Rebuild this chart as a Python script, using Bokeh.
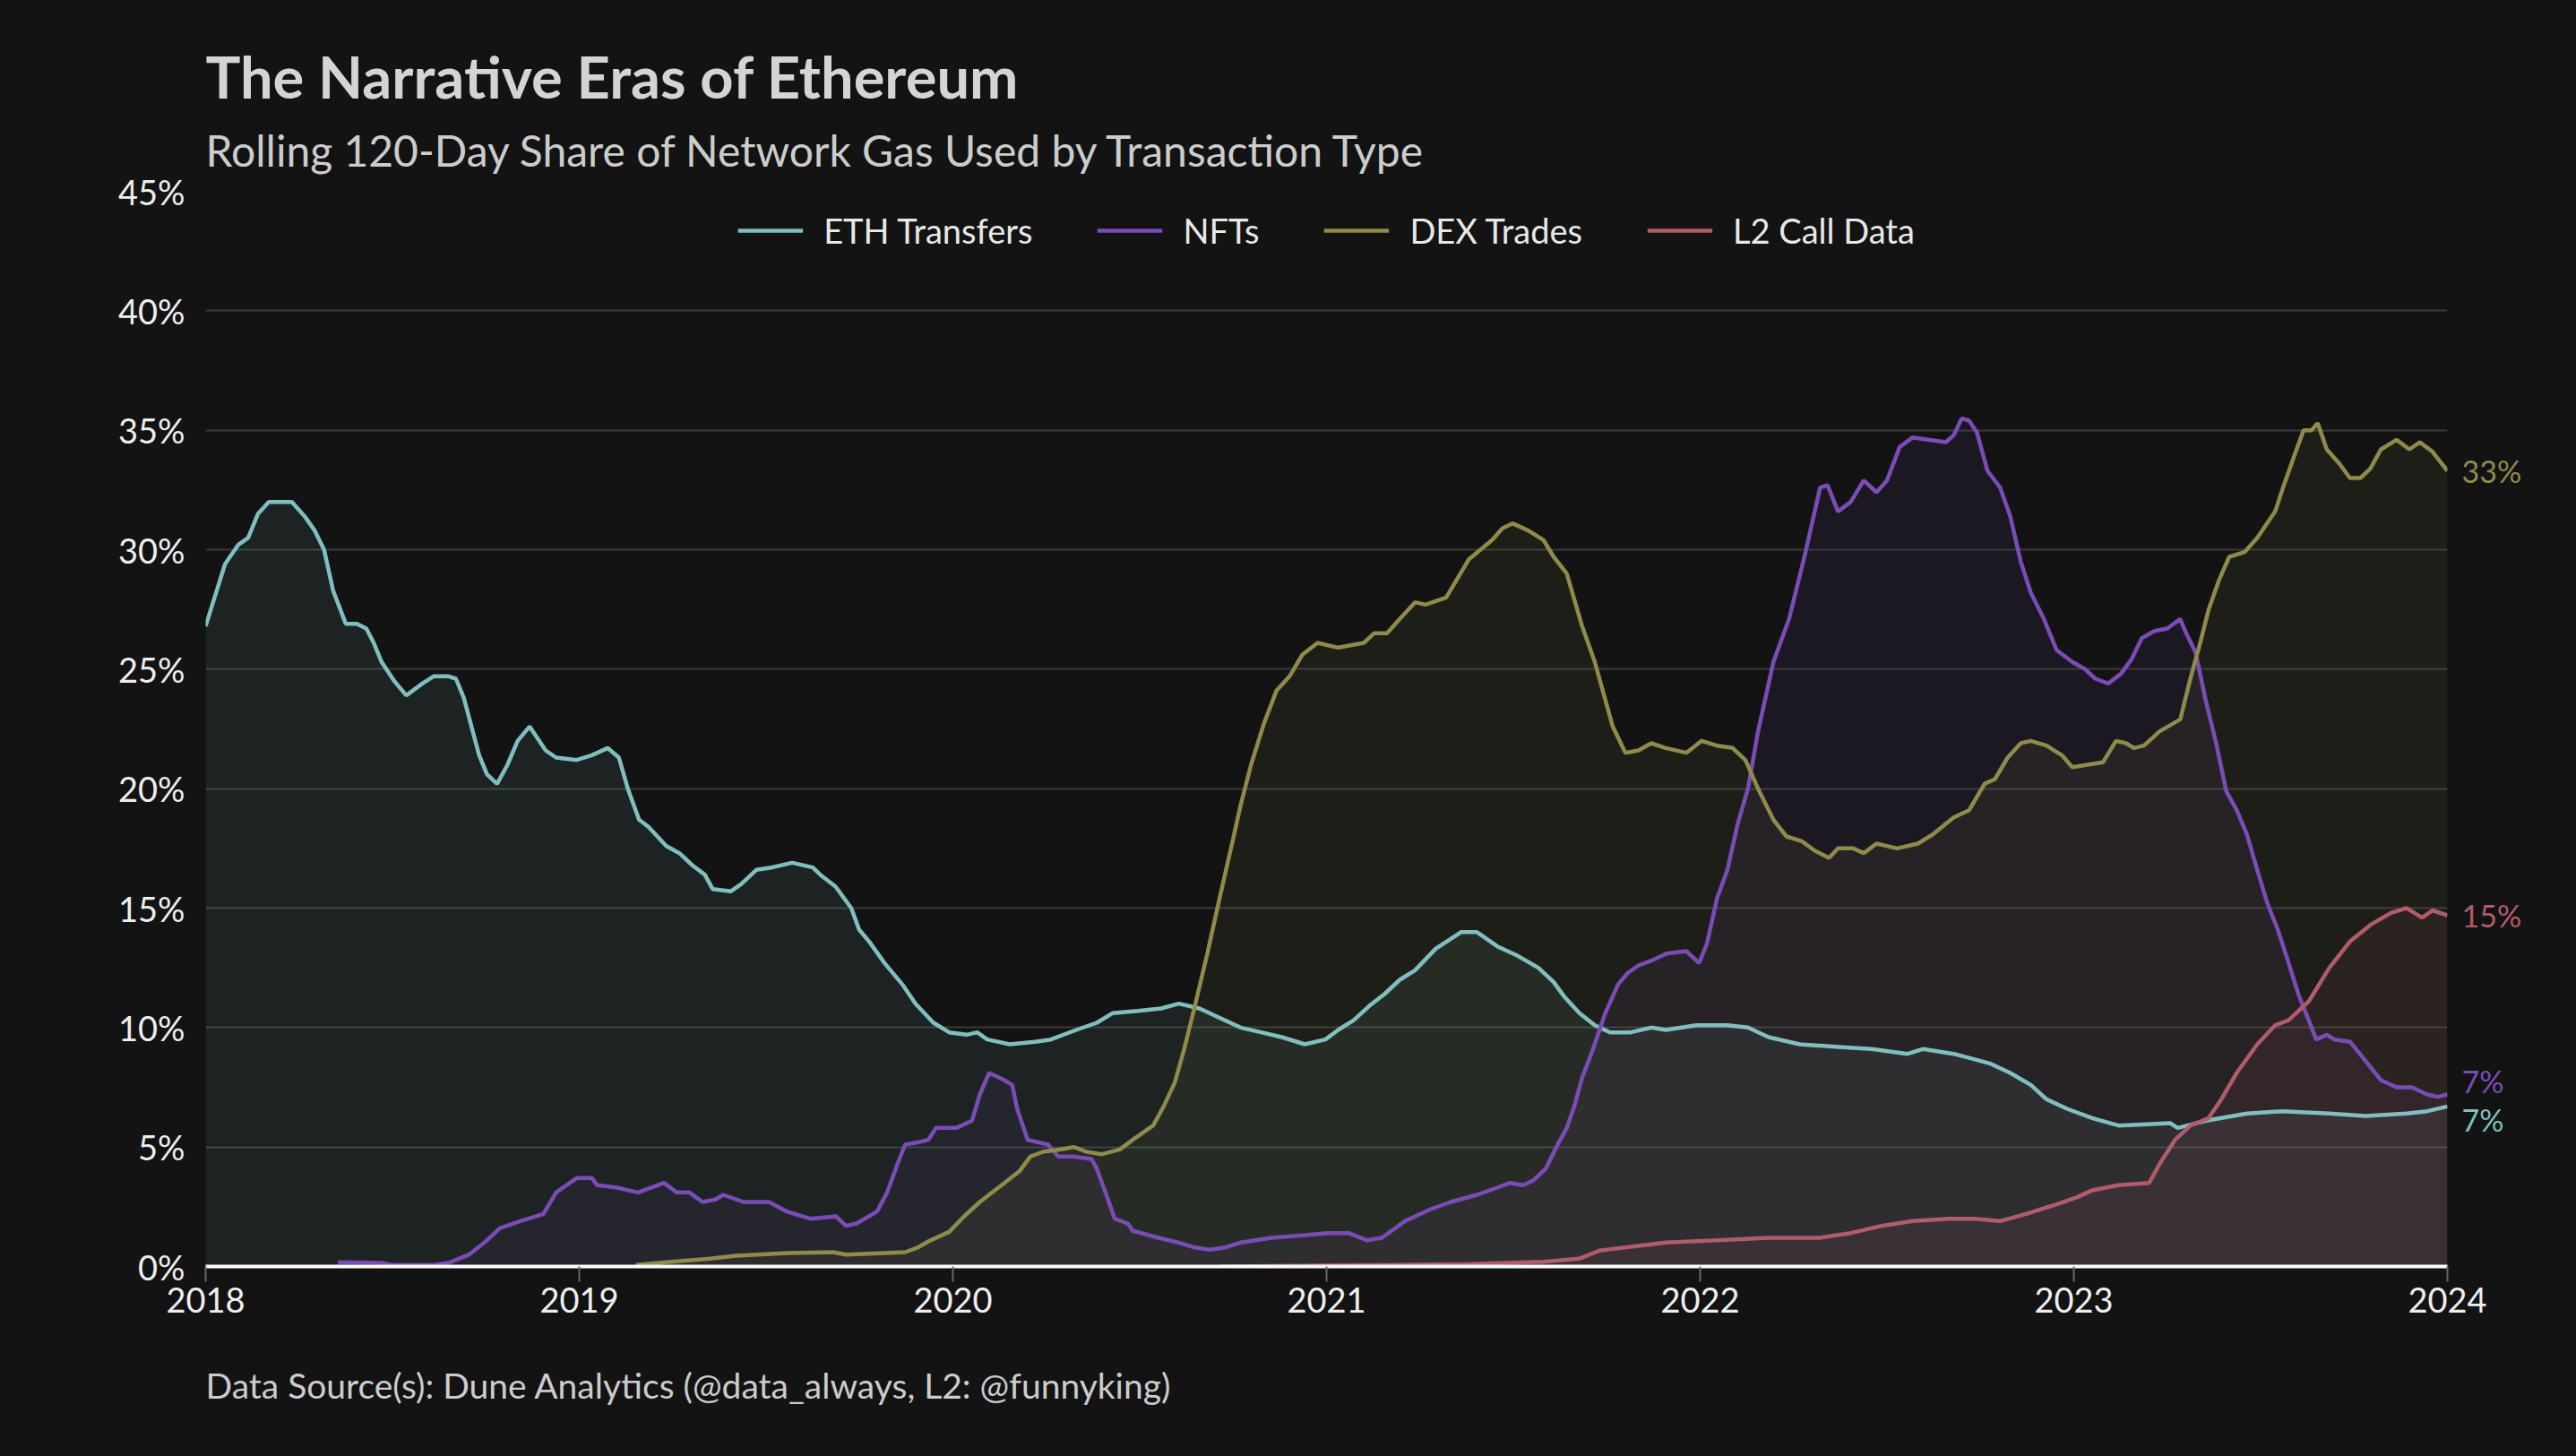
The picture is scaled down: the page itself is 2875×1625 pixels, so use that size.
from bokeh.plotting import figure
from bokeh.models import (ColumnDataSource, Range1d, FixedTicker, PrintfTickFormatter,
                          Legend, LegendItem, Title)
from bokeh.layouts import row
from bokeh.core.properties import value
from bokeh.embed import file_html
from bokeh.resources import INLINE

BG = "#131313"
FONT = "Lato"

title_text = "The Narrative Eras of Ethereum"
subtitle_text = "Rolling 120-Day Share of Network Gas Used by Transaction Type"
footer_text = "Data Source(s): Dune Analytics (@data_always, L2: @funnyking)"

year_ticks = [2018, 2019, 2020, 2021, 2022, 2023, 2024]
pct_ticks = [0, 5, 10, 15, 20, 25, 30, 35, 40, 45]

# decimal years / percent of gas
eth_x = [2018.000, 2018.032, 2018.052, 2018.087, 2018.114, 2018.140, 2018.169, 2018.231, 2018.265, 2018.292,
         2018.317, 2018.341, 2018.375, 2018.405, 2018.430, 2018.450, 2018.471, 2018.505, 2018.537, 2018.580,
         2018.610, 2018.650, 2018.670, 2018.691, 2018.732, 2018.753, 2018.780, 2018.808, 2018.835, 2018.867,
         2018.910, 2018.938, 2018.993, 2019.034, 2019.076, 2019.106, 2019.130, 2019.160, 2019.185, 2019.233,
         2019.268, 2019.302, 2019.336, 2019.357, 2019.405, 2019.433, 2019.474, 2019.515, 2019.570, 2019.625,
         2019.645, 2019.686, 2019.728, 2019.749, 2019.776, 2019.817, 2019.865, 2019.900, 2019.948, 2019.990,
         2020.037, 2020.065, 2020.092, 2020.152, 2020.220, 2020.262, 2020.330, 2020.385, 2020.427, 2020.495,
         2020.557, 2020.605, 2020.660, 2020.701, 2020.770, 2020.825, 2020.880, 2020.942, 2020.997, 2021.031,
         2021.072, 2021.114, 2021.155, 2021.196, 2021.237, 2021.292, 2021.361, 2021.402, 2021.457, 2021.512,
         2021.567, 2021.608, 2021.636, 2021.677, 2021.718, 2021.759, 2021.814, 2021.869, 2021.908, 2021.990,
         2022.073, 2022.128, 2022.183, 2022.266, 2022.362, 2022.459, 2022.555, 2022.596, 2022.679, 2022.775,
         2022.830, 2022.885, 2022.927, 2022.982, 2023.051, 2023.120, 2023.258, 2023.278, 2023.354, 2023.464,
         2023.560, 2023.684, 2023.781, 2023.891, 2023.946, 2024.000]
eth_y = [26.8, 28.4, 29.4, 30.2, 30.5, 31.5, 32.0, 32.0, 31.4, 30.8,
         30.0, 28.3, 26.9, 26.9, 26.7, 26.1, 25.3, 24.5, 23.9, 24.4,
         24.7, 24.7, 24.6, 23.8, 21.4, 20.6, 20.2, 21.0, 22.0, 22.6,
         21.6, 21.3, 21.2, 21.4, 21.7, 21.3, 20.0, 18.7, 18.4, 17.6,
         17.3, 16.8, 16.4, 15.8, 15.7, 16.0, 16.6, 16.7, 16.9, 16.7,
         16.4, 15.9, 15.0, 14.1, 13.6, 12.7, 11.8, 11.0, 10.2, 9.8,
         9.7, 9.8, 9.5, 9.3, 9.4, 9.5, 9.9, 10.2, 10.6, 10.7,
         10.8, 11.0, 10.8, 10.5, 10.0, 9.8, 9.6, 9.3, 9.5, 9.9,
         10.3, 10.9, 11.4, 12.0, 12.4, 13.3, 14.0, 14.0, 13.4, 13.0,
         12.5, 11.9, 11.3, 10.6, 10.1, 9.8, 9.8, 10.0, 9.9, 10.1,
         10.1, 10.0, 9.6, 9.3, 9.2, 9.1, 8.9, 9.1, 8.9, 8.5,
         8.1, 7.6, 7.0, 6.6, 6.2, 5.9, 6.0, 5.8, 6.1, 6.4,
         6.5, 6.4, 6.3, 6.4, 6.5, 6.7]

nft_x = [2018.354, 2018.471, 2018.498, 2018.610, 2018.650, 2018.705, 2018.746, 2018.787, 2018.842, 2018.904,
         2018.938, 2018.993, 2019.034, 2019.048, 2019.102, 2019.157, 2019.227, 2019.261, 2019.295, 2019.330,
         2019.364, 2019.385, 2019.440, 2019.508, 2019.556, 2019.618, 2019.687, 2019.714, 2019.742, 2019.797,
         2019.824, 2019.852, 2019.872, 2019.907, 2019.934, 2019.955, 2020.010, 2020.051, 2020.072, 2020.097,
         2020.138, 2020.159, 2020.172, 2020.200, 2020.255, 2020.282, 2020.323, 2020.371, 2020.385, 2020.413,
         2020.433, 2020.468, 2020.481, 2020.550, 2020.605, 2020.646, 2020.688, 2020.729, 2020.770, 2020.852,
         2020.935, 2021.004, 2021.059, 2021.107, 2021.148, 2021.210, 2021.279, 2021.333, 2021.402, 2021.457,
         2021.491, 2021.526, 2021.553, 2021.587, 2021.615, 2021.643, 2021.663, 2021.684, 2021.711, 2021.746,
         2021.780, 2021.807, 2021.835, 2021.869, 2021.910, 2021.963, 2021.997, 2022.018, 2022.045, 2022.073,
         2022.100, 2022.128, 2022.155, 2022.196, 2022.238, 2022.279, 2022.321, 2022.341, 2022.369, 2022.403,
         2022.438, 2022.472, 2022.500, 2022.534, 2022.569, 2022.610, 2022.658, 2022.679, 2022.700, 2022.720,
         2022.741, 2022.769, 2022.803, 2022.830, 2022.858, 2022.885, 2022.920, 2022.954, 2022.996, 2023.030,
         2023.058, 2023.092, 2023.126, 2023.154, 2023.182, 2023.216, 2023.250, 2023.285, 2023.298, 2023.326,
         2023.353, 2023.381, 2023.408, 2023.436, 2023.463, 2023.491, 2023.518, 2023.546, 2023.573, 2023.601,
         2023.629, 2023.649, 2023.677, 2023.698, 2023.740, 2023.781, 2023.822, 2023.864, 2023.905, 2023.946,
         2023.974, 2024.000]
nft_y = [0.18, 0.15, 0.07, 0.07, 0.15, 0.5, 1.0, 1.6, 1.9, 2.2,
         3.1, 3.7, 3.7, 3.4, 3.3, 3.1, 3.5, 3.1, 3.1, 2.7,
         2.8, 3.0, 2.7, 2.7, 2.3, 2.0, 2.1, 1.7, 1.8, 2.3,
         3.1, 4.3, 5.1, 5.2, 5.3, 5.8, 5.8, 6.1, 7.2, 8.1,
         7.8, 7.6, 6.6, 5.3, 5.1, 4.6, 4.6, 4.5, 4.1, 2.9,
         2.0, 1.8, 1.5, 1.2, 1.0, 0.8, 0.7, 0.8, 1.0, 1.2,
         1.3, 1.4, 1.4, 1.1, 1.2, 1.9, 2.4, 2.7, 3.0, 3.3,
         3.5, 3.4, 3.6, 4.1, 5.0, 5.8, 6.7, 7.9, 9.0, 10.6,
         11.8, 12.3, 12.6, 12.8, 13.1, 13.2, 12.7, 13.5, 15.4, 16.6,
         18.5, 20.0, 22.4, 25.3, 27.1, 29.7, 32.6, 32.7, 31.6, 32.0,
         32.9, 32.4, 32.9, 34.3, 34.7, 34.6, 34.5, 34.8, 35.5, 35.4,
         34.9, 33.3, 32.6, 31.4, 29.5, 28.2, 27.1, 25.8, 25.3, 25.0,
         24.6, 24.4, 24.8, 25.4, 26.3, 26.6, 26.7, 27.1, 26.6, 25.7,
         23.7, 21.9, 19.9, 19.1, 18.1, 16.6, 15.2, 14.1, 12.8, 11.4,
         10.3, 9.5, 9.7, 9.5, 9.4, 8.6, 7.8, 7.5, 7.5, 7.2,
         7.1, 7.2]

dex_x = [2019.151, 2019.350, 2019.419, 2019.556, 2019.679, 2019.714, 2019.872, 2019.907, 2019.934, 2019.990,
         2020.030, 2020.072, 2020.138, 2020.179, 2020.207, 2020.241, 2020.289, 2020.323, 2020.358, 2020.399,
         2020.447, 2020.481, 2020.536, 2020.564, 2020.594, 2020.619, 2020.646, 2020.681, 2020.715, 2020.750,
         2020.770, 2020.798, 2020.832, 2020.866, 2020.901, 2020.935, 2020.976, 2021.031, 2021.100, 2021.127,
         2021.162, 2021.196, 2021.237, 2021.265, 2021.320, 2021.347, 2021.381, 2021.443, 2021.471, 2021.498,
         2021.540, 2021.581, 2021.608, 2021.643, 2021.684, 2021.718, 2021.766, 2021.800, 2021.835, 2021.869,
         2021.908, 2021.963, 2022.004, 2022.045, 2022.087, 2022.121, 2022.155, 2022.196, 2022.231, 2022.272,
         2022.307, 2022.345, 2022.369, 2022.410, 2022.438, 2022.472, 2022.527, 2022.583, 2022.624, 2022.679,
         2022.720, 2022.761, 2022.789, 2022.823, 2022.858, 2022.885, 2022.927, 2022.968, 2022.996, 2023.037,
         2023.078, 2023.113, 2023.140, 2023.161, 2023.188, 2023.230, 2023.285, 2023.312, 2023.340, 2023.361,
         2023.388, 2023.416, 2023.457, 2023.491, 2023.539, 2023.560, 2023.587, 2023.615, 2023.636, 2023.653,
         2023.677, 2023.711, 2023.739, 2023.767, 2023.794, 2023.822, 2023.864, 2023.898, 2023.926, 2023.960,
         2024.000]
dex_y = [0.07, 0.33, 0.45, 0.56, 0.6, 0.5, 0.6, 0.8, 1.05, 1.45,
         2.1, 2.7, 3.5, 4.0, 4.6, 4.8, 4.9, 5.0, 4.8, 4.7,
         4.9, 5.3, 5.9, 6.7, 7.7, 9.1, 10.8, 13.1, 15.5, 17.9,
         19.3, 21.0, 22.7, 24.1, 24.7, 25.6, 26.1, 25.9, 26.1, 26.5,
         26.5, 27.1, 27.8, 27.7, 28.0, 28.7, 29.6, 30.4, 30.9, 31.1,
         30.8, 30.4, 29.7, 29.0, 26.8, 25.3, 22.6, 21.5, 21.6, 21.9,
         21.7, 21.5, 22.0, 21.8, 21.7, 21.2, 20.0, 18.7, 18.0, 17.8,
         17.4, 17.1, 17.5, 17.5, 17.3, 17.7, 17.5, 17.7, 18.1, 18.8,
         19.1, 20.2, 20.4, 21.3, 21.9, 22.0, 21.8, 21.4, 20.9, 21.0,
         21.1, 22.0, 21.9, 21.7, 21.8, 22.4, 22.9, 24.6, 26.2, 27.5,
         28.7, 29.7, 29.9, 30.5, 31.6, 32.6, 33.8, 35.0, 35.0, 35.3,
         34.2, 33.6, 33.0, 33.0, 33.4, 34.2, 34.6, 34.2, 34.5, 34.1,
         33.3]

l2_x = [2020.715, 2021.182, 2021.388, 2021.580, 2021.677, 2021.732, 2021.869, 2021.908, 2022.045, 2022.183,
        2022.320, 2022.403, 2022.486, 2022.569, 2022.665, 2022.734, 2022.803, 2022.872, 2022.954, 2023.009,
        2023.051, 2023.120, 2023.202, 2023.230, 2023.271, 2023.312, 2023.360, 2023.395, 2023.436, 2023.491,
        2023.539, 2023.574, 2023.629, 2023.684, 2023.739, 2023.794, 2023.849, 2023.891, 2023.932, 2023.960,
        2024.000]
l2_y = [0.0, 0.07, 0.1, 0.2, 0.33, 0.67, 0.93, 1.0, 1.1, 1.2,
        1.2, 1.4, 1.7, 1.9, 2.0, 2.0, 1.9, 2.2, 2.6, 2.9,
        3.2, 3.4, 3.5, 4.3, 5.3, 5.9, 6.2, 7.0, 8.1, 9.3,
        10.1, 10.3, 11.1, 12.5, 13.6, 14.3, 14.8, 15.0, 14.6, 14.9,
        14.7]

series = [
    ("ETH Transfers", "#80bfbe", eth_x, eth_y),
    ("NFTs", "#7a4db6", nft_x, nft_y),
    ("DEX Trades", "#8f8b4b", dex_x, dex_y),
    ("L2 Call Data", "#b05c6b", l2_x, l2_y),
]

W, H = 2875, 1625
TOP, BOTTOM, RIGHT = 213, 212, 144

p = figure(width=W, height=H, x_range=Range1d(2018, 2024), y_range=Range1d(0, 45),
           output_backend="svg", toolbar_location=None,
           background_fill_color=BG, border_fill_color=BG, outline_line_color=None,
           min_border_left=229, min_border_right=RIGHT, min_border_top=TOP, min_border_bottom=BOTTOM)

items = []
for name, color, xs, ys in series:
    src = ColumnDataSource(data=dict(x=xs, y=ys, base=[0] * len(xs)))
    p.varea(x="x", y1="base", y2="y", source=src, fill_color=color, fill_alpha=0.09)
for name, color, xs, ys in series:
    src = ColumnDataSource(data=dict(x=xs, y=ys))
    r = p.line(x="x", y="y", source=src, line_color=color, line_width=4.5)
    items.append(LegendItem(label=name, renderers=[r]))

legend = Legend(items=items, location="top_center", orientation="horizontal",
                background_fill_alpha=0, border_line_alpha=0,
                label_text_font=FONT, label_text_font_size="38px", label_text_color="#e8e8e8",
                glyph_width=73, glyph_height=30, label_height=40, label_standoff=23,
                spacing=72, margin=13, padding=8)
p.add_layout(legend)

p.xgrid.visible = False
p.ygrid.grid_line_color = "#3a3a3a"
p.ygrid.grid_line_width = 2

p.yaxis.ticker = FixedTicker(ticks=pct_ticks)
p.yaxis.formatter = PrintfTickFormatter(format="%d%%")
p.yaxis.axis_line_color = None
p.yaxis.major_tick_line_color = None
p.yaxis.minor_tick_line_color = None
p.yaxis.major_label_standoff = 17

p.xaxis.ticker = FixedTicker(ticks=year_ticks)
p.xaxis.formatter = PrintfTickFormatter(format="%d")
p.xaxis.axis_line_color = "white"
p.xaxis.axis_line_width = 4
p.xaxis.major_tick_line_color = "#666666"
p.xaxis.major_tick_line_width = 2
p.xaxis.major_tick_in = 0
p.xaxis.major_tick_out = 17
p.xaxis.minor_tick_line_color = None
p.xaxis.major_label_standoff = 6

for ax in (p.xaxis, p.yaxis):
    ax.major_label_text_font = FONT
    ax.major_label_text_font_size = "38px"
    ax.major_label_text_color = "#eeeeee"

p.add_layout(Title(text=subtitle_text, text_font=FONT, text_font_size="48px",
                   text_font_style="normal", text_color="#cccccc", align="left", standoff=35), "above")
p.add_layout(Title(text=title_text, text_font=FONT, text_font_size="65px",
                   text_font_style="bold", text_color="#d4d4d4", align="left", standoff=-8), "above")
p.add_layout(Title(text=footer_text, text_font=FONT, text_font_size="39px",
                   text_font_style="normal", text_color="#cccccc", align="left", standoff=106), "below")

# end-of-line value labels, pushed apart where they would overlap
ends = sorted([(ys[-1], color) for name, color, xs, ys in series])
end_vals = [e[0] for e in ends]
end_colors = [e[1] for e in ends]
label_y = list(end_vals)
for i in range(1, len(label_y)):
    if label_y[i] - label_y[i - 1] < 1.6:
        mid = (label_y[i] + label_y[i - 1]) / 2
        label_y[i - 1] = mid - 0.8
        label_y[i] = mid + 0.8

# transparent strip laid over the right margin of the main plot, sharing its y scale
side = figure(width=RIGHT, height=H, x_range=Range1d(0, 1), y_range=p.y_range,
              output_backend="svg", toolbar_location=None,
              x_axis_location=None, y_axis_location=None,
              background_fill_alpha=0, border_fill_alpha=0, outline_line_color=None,
              min_border_left=0, min_border_right=0, min_border_top=TOP, min_border_bottom=BOTTOM)
side.grid.visible = False
side.styles = {"margin-left": f"-{RIGHT}px"}
side_src = ColumnDataSource(data=dict(x=[0] * len(ends), y=label_y,
                                      text=[f"{round(v)}%" for v in end_vals], color=end_colors))
side.text(x="x", y="y", text="text", source=side_src, text_color="color", x_offset=16,
          text_baseline="middle", text_align="left",
          text_font=value(FONT), text_font_size="34px")

layout = row(p, side)

html = file_html(layout, INLINE)
html = html.replace("<head>", "<head><style>body{background:#131313;margin:0;overflow:hidden;}</style>", 1)
open("out.html", "w").write(html)
